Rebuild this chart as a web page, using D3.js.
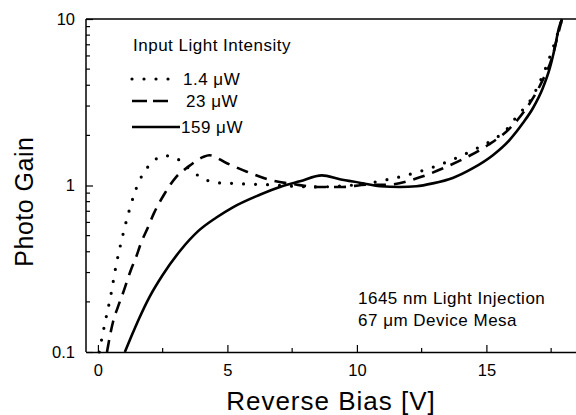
<!DOCTYPE html>
<html>
<head>
<meta charset="utf-8">
<script src="https://cdn.jsdelivr.net/npm/d3@7"></script>
<style>
  body { margin: 0; background: #fff; }
  text { font-family: 'Liberation Sans', Arial, Helvetica, sans-serif; fill: #000; }
</style>
</head>
<body>
<div id="chart"></div>
<script>
// 1.4 uW curve
const biasLow = [0.05, 0.27, 0.5, 0.69, 0.93, 1.2, 1.58, 1.89, 2.3, 2.6, 2.95, 3.44, 3.98, 4.56, 5.17, 5.79, 6.6, 7.5, 8.4, 9.3, 10.2, 11.24, 12.32, 13.55, 14.59, 15.17, 15.79, 16.18, 16.68, 17.18, 17.57, 17.92]
const gainLow = [0.1, 0.149, 0.22, 0.324, 0.48, 0.7, 1.05, 1.27, 1.46, 1.51, 1.48, 1.29, 1.12, 1.04, 1.03, 1.02, 1.01, 0.99, 0.98, 0.99, 1.02, 1.09, 1.2, 1.4, 1.66, 1.85, 2.18, 2.61, 3.22, 4.61, 6.7, 10]

// 23 uW curve
const biasMid = [0.35, 0.58, 0.77, 0.97, 1.27, 1.47, 1.66, 1.93, 2.16, 2.55, 3.01, 3.47, 4.05, 4.3, 4.98, 5.75, 6.64, 7.53, 8.49, 9.46, 10.39, 11.16, 12.43, 13.28, 14.17, 15.06, 15.91, 16.68, 17.14, 17.53, 17.76, 17.92]
const gainMid = [0.1, 0.151, 0.186, 0.226, 0.31, 0.37, 0.45, 0.56, 0.68, 0.88, 1.12, 1.29, 1.48, 1.52, 1.36, 1.21, 1.08, 1.02, 0.98, 0.98, 1.01, 1.01, 1.12, 1.26, 1.46, 1.75, 2.21, 3.13, 4.19, 5.83, 8.0, 10]

// 159 uW curve
const biasHigh = [1.04, 1.3, 1.6, 2.0, 2.5, 3.2, 3.86, 4.56, 5.21, 6.25, 7.03, 7.8, 8.65, 9.34, 10.1, 10.9, 11.66, 12.3, 12.93, 13.7, 14.48, 15.25, 15.9, 16.41, 16.8, 17.18, 17.45, 17.64, 17.8, 17.92]
const gainHigh = [0.1, 0.125, 0.16, 0.215, 0.29, 0.41, 0.53, 0.64, 0.74, 0.88, 0.98, 1.06, 1.15, 1.09, 1.04, 0.99, 0.98, 0.99, 1.03, 1.11, 1.27, 1.52, 1.88, 2.37, 2.92, 3.85, 5.08, 6.7, 8.83, 10]

const seriesNames = ['1.4 \u03bcW', '23 \u03bcW', '159 \u03bcW']
const xTicks = [0, 5, 10, 15]
const xMinorTicks = [2.5, 7.5, 12.5, 17.5]
const yTicks = [0.1, 1, 10]
const yMinorTicks = [0.2, 0.3, 0.4, 0.5, 0.6, 0.7, 0.8, 0.9, 2, 3, 4, 5, 6, 7, 8, 9]

const margin = { top: 19, right: 0, bottom: 63, left: 86 }
const width = 576 - margin.left - margin.right
const height = 415 - margin.top - margin.bottom

const svg = d3
  .select('#chart')
  .append('svg')
  .attr('width', 576)
  .attr('height', 415)
  .append('g')
  .attr('transform', 'translate(' + margin.left + ',' + margin.top + ')')

const xPositionScale = d3.scaleLinear().domain([-0.46, 18.46]).range([0, width])
const yPositionScale = d3.scaleLog().domain([0.1, 10]).range([height, 0])

// frame: left and top lines
svg.append('line')
  .attr('x1', 0).attr('y1', 0).attr('x2', 0).attr('y2', height)
  .attr('stroke', '#000').attr('stroke-width', 1.5)
svg.append('line')
  .attr('x1', 0).attr('y1', 0).attr('x2', width).attr('y2', 0)
  .attr('stroke', '#000').attr('stroke-width', 1.5)

// x axis, ticks pointing up into the plot
const xAxis = d3.axisBottom(xPositionScale)
  .tickValues(xTicks)
  .tickSizeInner(-7)
  .tickSizeOuter(0)
  .tickPadding(12)
  .tickFormat(d3.format('d'))

const xg = svg.append('g')
  .attr('class', 'axis x-axis')
  .attr('transform', 'translate(0,' + height + ')')
  .call(xAxis)
xg.select('.domain').attr('stroke-width', 1.5)
xg.selectAll('.tick line').attr('stroke-width', 1.2)
xg.selectAll('text').attr('font-size', 16.5).attr('font-family', "'Liberation Sans', Arial, sans-serif")

svg.append('g')
  .attr('transform', 'translate(0,' + height + ')')
  .selectAll('line')
  .data(xMinorTicks)
  .enter()
  .append('line')
  .attr('x1', d => xPositionScale(d))
  .attr('x2', d => xPositionScale(d))
  .attr('y1', 0)
  .attr('y2', -4)
  .attr('stroke', '#000')
  .attr('stroke-width', 1.2)

// y axis, ticks pointing right
const yAxis = d3.axisLeft(yPositionScale)
  .tickValues(yTicks)
  .tickSizeInner(-7)
  .tickSizeOuter(0)
  .tickPadding(11)
  .tickFormat(d => d === 0.1 ? '0.1' : d3.format('d')(d))

const yg = svg.append('g')
  .attr('class', 'axis y-axis')
  .call(yAxis)
yg.select('.domain').remove()
yg.selectAll('.tick line').attr('stroke-width', 1.2)
yg.selectAll('text').attr('font-size', 16.5).attr('font-family', "'Liberation Sans', Arial, sans-serif")

svg.append('g')
  .selectAll('line')
  .data(yMinorTicks)
  .enter()
  .append('line')
  .attr('x1', 0)
  .attr('x2', 4)
  .attr('y1', d => yPositionScale(d))
  .attr('y2', d => yPositionScale(d))
  .attr('stroke', '#000')
  .attr('stroke-width', 1.2)

// curves
const line = d3.line()
  .x(d => xPositionScale(d[0]))
  .y(d => yPositionScale(d[1]))
  .curve(d3.curveMonotoneX)

const curves = [
  { name: seriesNames[0], points: d3.zip(biasLow, gainLow), dash: '0,12', width: 3.2 },
  { name: seriesNames[1], points: d3.zip(biasMid, gainMid), dash: '12,8', width: 2.6 },
  { name: seriesNames[2], points: d3.zip(biasHigh, gainHigh), dash: null, width: 2.6 }
]

svg.selectAll('.curve')
  .data(curves)
  .enter()
  .append('path')
  .attr('class', 'curve')
  .attr('d', d => line(d.points))
  .attr('fill', 'none')
  .attr('stroke', '#000')
  .attr('stroke-width', d => d.width)
  .attr('stroke-linecap', d => d.dash === '0,12' ? 'round' : 'butt')
  .attr('stroke-dasharray', d => d.dash)

// legend
svg.append('text')
  .attr('x', 47)
  .attr('y', 32)
  .attr('font-size', 17)
  .attr('letter-spacing', 0.5)
  .text('Input Light Intensity')

const legendDash = ['0,12', '15,6', null]
const legendY = [60, 82, 108]
const legendEnd = [94, 82, 94]
const legendTextX = [97, 100, 95]

curves.forEach((c, i) => {
  svg.append('line')
    .attr('x1', 46)
    .attr('x2', legendEnd[i])
    .attr('y1', legendY[i])
    .attr('y2', legendY[i])
    .attr('stroke', '#000')
    .attr('stroke-width', c.width)
    .attr('stroke-linecap', i === 0 ? 'round' : 'butt')
    .attr('stroke-dasharray', legendDash[i])
  svg.append('text')
    .attr('x', legendTextX[i])
    .attr('y', legendY[i] + 6)
    .attr('font-size', 17)
    .attr('letter-spacing', 0.5)
    .text(c.name)
})

// annotation
svg.append('text')
  .attr('x', 272)
  .attr('y', 285)
  .attr('font-size', 17)
  .attr('letter-spacing', 0.5)
  .text('1645 nm Light Injection')

svg.append('text')
  .attr('x', 272)
  .attr('y', 307)
  .attr('font-size', 17)
  .attr('letter-spacing', 0.5)
  .text('67 \u03bcm Device Mesa')

// axis titles
svg.append('text')
  .attr('x', xPositionScale(9))
  .attr('y', height + 58)
  .attr('text-anchor', 'middle')
  .attr('font-size', 26)
  .attr('letter-spacing', 1)
  .text('Reverse Bias [V]')

svg.append('text')
  .attr('transform', 'translate(-53,' + yPositionScale(0.8) + ') rotate(-90)')
  .attr('text-anchor', 'middle')
  .attr('font-size', 25)
  .attr('letter-spacing', 0.5)
  .text('Photo Gain')
</script>
</body>
</html>
